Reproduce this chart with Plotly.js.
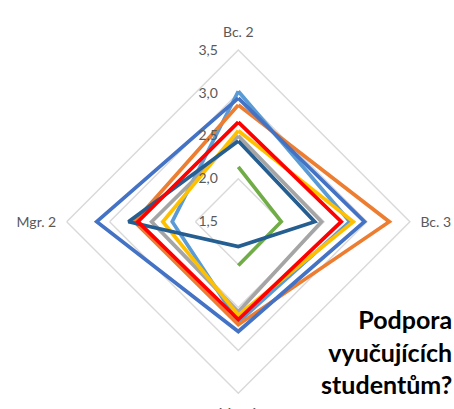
<!DOCTYPE html>
<html>
<head>
<meta charset="utf-8">
<script src="https://cdn.plot.ly/plotly-3.0.1.min.js"></script>
<style>html,body{margin:0;padding:0;background:#fff;}#chart{width:454px;height:409px;}</style>
</head>
<body>
<div id="chart"></div>
<script>
const categories = ["Bc. 2", "Bc. 3", "Mgr. 1", "Mgr. 2"];
const radialTicks = [1.5, 2.0, 2.5, 3.0, 3.5];
const seriesNames = ["Řada 1", "Řada 2", "Řada 3", "Řada 4", "Řada 5", "Řada 6", "Řada 7", "Řada 8"];
const seriesColors = ["#5B9BD5", "#ED7D31", "#A5A5A5", "#FFC000", "#4472C4", "#70AD47", "#255E91", "#FF0000"];
const s1 = [3.02, 2.80, 2.67, 2.27];
const s2 = [2.86, 3.26, 2.70, 2.71];
const s3 = [2.50, 2.47, 2.55, 2.51];
const s4 = [2.56, 2.84, 2.59, 2.38];
const s5 = [2.94, 2.97, 2.78, 3.15];
const s6 = [2.14, 2.00, 2.01, null];
const s7 = [2.44, 2.39, 1.79, 2.78];
const s8 = [2.66, 2.70, 2.64, 2.67];
const seriesValues = [s1, s2, s3, s4, s5, s6, s7, s8];

const traces = seriesValues.map((vals, i) => ({
  type: "scatterpolar",
  mode: "lines",
  name: seriesNames[i],
  r: vals.concat([vals[0]]),
  theta: categories.concat([categories[0]]),
  line: {color: seriesColors[i], width: 3.7},
  connectgaps: false,
  showlegend: false,
  hoverinfo: "skip"
}));

const W = 454, H = 409;
const cx = 238.3, cy = 221.7, R = 171.6;
const layout = {
  width: W, height: H,
  margin: {l: 0, r: 0, t: 0, b: 0},
  paper_bgcolor: "#fff",
  separators: ", ",
  font: {family: "Lato, Carlito, sans-serif", color: "#595959", size: 14},
  showlegend: false,
  title: {
    text: "Podpora<br>vyučujících<br>studentům?",
    x: 0.996, xanchor: "right", xref: "paper",
    y: 0.195, yanchor: "middle", yref: "container",
    font: {family: "Lato, Carlito, sans-serif", size: 25, color: "#000", weight: "bold"}
  },
  polar: {
    domain: {x: [(cx - R) / W, (cx + R) / W], y: [(H - cy - R) / H, (H - cy + R) / H]},
    bgcolor: "#fff",
    gridshape: "linear",
    angularaxis: {
      type: "category",
      categoryarray: categories,
      rotation: 90,
      direction: "clockwise",
      showgrid: false,
      showline: true,
      linecolor: "#D9D9D9",
      linewidth: 1.4,
      ticks: "outside",
      ticklen: 7,
      tickcolor: "rgba(0,0,0,0)",
      tickfont: {size: 14, color: "#595959"}
    },
    radialaxis: {
      range: [1.5, 3.5],
      angle: 90,
      tickangle: 90,
      side: "counterclockwise",
      tickvals: radialTicks,
      tickformat: ".1f",
      showline: false,
      ticks: "outside",
      ticklen: 15,
      tickcolor: "rgba(0,0,0,0)",
      gridcolor: "#D9D9D9",
      gridwidth: 1.4,
      tickfont: {size: 14, color: "#595959"}
    }
  }
};
Plotly.newPlot("chart", traces, layout, {displayModeBar: false, staticPlot: true});
</script>
</body>
</html>
